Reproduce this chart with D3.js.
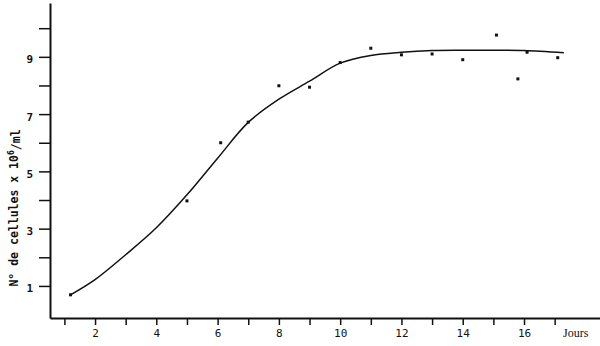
<!DOCTYPE html>
<html>
<head>
<meta charset="utf-8">
<script src="https://cdn.jsdelivr.net/npm/d3@7"></script>
<style>
  body { margin: 0; background: #fff; }
  svg { display: block; }
  text { font-family: "DejaVu Sans Mono", monospace; fill: #111; }
</style>
</head>
<body>
<div id="graph"></div>
<script>
// measured points (jours, cellules x 10^6/ml)
const pointDays = [1.2, 5, 6.1, 7, 8, 9, 10, 11, 12, 13, 14, 15.1, 15.8, 16.1, 17.1];
const pointVals = [0.69, 3.97, 6.0, 6.72, 7.99, 7.94, 8.8, 9.3, 9.07, 9.1, 8.9, 9.76, 8.23, 9.16, 8.97];

// hand-drawn fitted curve
const curveDays = [1.2, 2, 3, 4, 5, 6, 7, 8, 9, 10, 11, 12, 13, 14, 15, 16, 17.3];
const curveVals = [0.69, 1.22, 2.09, 3.03, 4.18, 5.46, 6.71, 7.52, 8.15, 8.78, 9.05, 9.16, 9.22, 9.23, 9.23, 9.22, 9.14];

const xTicks = d3.range(1, 18);
const yTicks = d3.range(1, 11);

const width = 600;
const height = 346;

let svg = d3.select("#graph")
    .append("svg")
        .attr("width", width)
        .attr("height", height);

let x = d3.scaleLinear().domain([0.53, 18.48]).range([50, 600]);
let y = d3.scaleLinear().domain([-0.12, 10.88]).range([318, 3]);

const xAxis = d3.axisBottom(x)
    .tickValues(xTicks)
    .tickSize(7)
    .tickSizeOuter(0)
    .tickPadding(4)
    .tickFormat(d => d % 2 === 0 ? d : "");

const yAxis = d3.axisLeft(y)
    .tickValues(yTicks)
    .tickSize(11)
    .tickSizeOuter(0)
    .tickPadding(6)
    .tickFormat(d => d % 2 === 1 ? d : "");

let gx = svg.append("g")
    .attr("transform", "translate(0,318)")
    .call(xAxis);

let gy = svg.append("g")
    .attr("transform", "translate(50,0)")
    .call(yAxis);

[gx, gy].forEach(g => {
    g.select(".domain").attr("stroke", "#111").attr("stroke-width", 2);
    g.selectAll(".tick line").attr("stroke", "#111").attr("stroke-width", 1.5);
    g.selectAll(".tick text")
        .attr("fill", "#111")
        .style("font-family", "DejaVu Sans Mono, monospace")
        .style("font-size", "11px");
});
gy.selectAll(".tick text").attr("dy", "0.55em").style("font-weight", "bold");

// fitted curve
const line = d3.line()
    .x(function(d) { return x(d[0]) })
    .y(function(d) { return y(d[1]) })
    .curve(d3.curveCatmullRom.alpha(0.5));

svg.append("path")
    .datum(d3.zip(curveDays, curveVals))
    .attr("fill", "none")
    .attr("stroke", "#111")
    .attr("stroke-width", 1.5)
    .attr("d", line);

// measured points
svg.append("g")
    .selectAll("rect")
    .data(d3.zip(pointDays, pointVals))
    .join("rect")
        .attr("x", d => x(d[0]) - 1.5)
        .attr("y", d => y(d[1]) - 1.5)
        .attr("width", 3)
        .attr("height", 3)
        .attr("fill", "#111");

// axis titles
svg.append("text")
    .attr("transform", "translate(18,208) rotate(-90)")
    .attr("text-anchor", "middle")
    .style("font-size", "11.5px")
    .style("font-weight", "bold")
    .text("N° de cellules x 10")
    .append("tspan")
        .attr("dy", "-0.45em")
        .style("font-size", "8px")
        .text("6")
    .select(function() { return this.parentNode; })
    .append("tspan")
        .attr("dy", "0.45em")
        .text("/ml");

svg.append("text")
    .attr("x", 563)
    .attr("y", 337)
    .style("font-family", "Liberation Serif, serif")
    .style("font-size", "12px")
    .text("Jours");
</script>
</body>
</html>
